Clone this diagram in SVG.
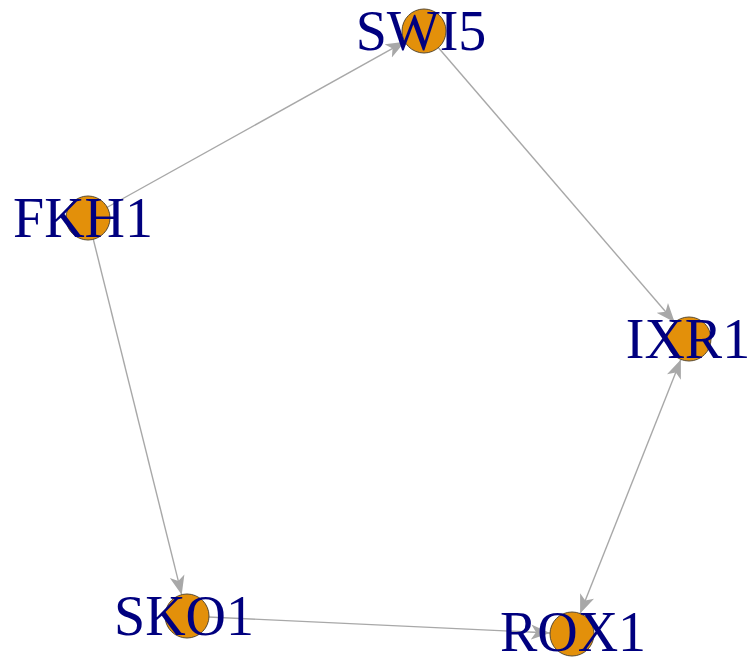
<svg xmlns="http://www.w3.org/2000/svg" width="753" height="662" viewBox="0 0 753 662">
<style>
.e{stroke:#A8A8A8;stroke-width:1.4;fill:none}
.v{fill:#E3900A;stroke:#5A4A30;stroke-width:1}
.t{font-family:"Liberation Serif",serif;font-size:56px;fill:#00007F;text-anchor:middle}
</style>
<defs>
<marker id="a" markerUnits="userSpaceOnUse" markerWidth="20" markerHeight="16" refX="19" refY="8" orient="auto-start-reverse" viewBox="0 0 20 16">
<path d="M0,0.5 L19,8 L0,15.5 L5,8 Z" fill="#A8A8A8"/>
</marker>
</defs>
<rect width="753" height="662" fill="#fff"/>
<g id="edges">
<line class="e" x1="88" y1="218" x2="404.8" y2="41.7" marker-end="url(#a)"/>
<line class="e" x1="424" y1="31" x2="674.7" y2="322.3" marker-end="url(#a)"/>
<line class="e" x1="88" y1="218" x2="181.7" y2="594.7" marker-end="url(#a)"/>
<line class="e" x1="680.9" y1="359.4" x2="580.1" y2="613.6" marker-start="url(#a)" marker-end="url(#a)"/>
<line class="e" x1="187" y1="616" x2="550" y2="633" marker-end="url(#a)"/>
</g>
<g id="SWI5"><circle class="v" cx="424" cy="31" r="22"/><text class="t" x="421" y="50">SWI5</text></g>
<g id="FKH1"><circle class="v" cx="88" cy="218" r="22"/><text class="t" x="83" y="237">FKH1</text></g>
<g id="IXR1"><circle class="v" cx="689" cy="339" r="22"/><text class="t" x="688" y="358">IXR1</text></g>
<g id="SKO1"><circle class="v" cx="187" cy="616" r="22"/><text class="t" x="184" y="635">SKO1</text></g>
<g id="ROX1"><circle class="v" cx="572" cy="634" r="22"/><text class="t" x="573" y="651">ROX1</text></g>
</svg>
